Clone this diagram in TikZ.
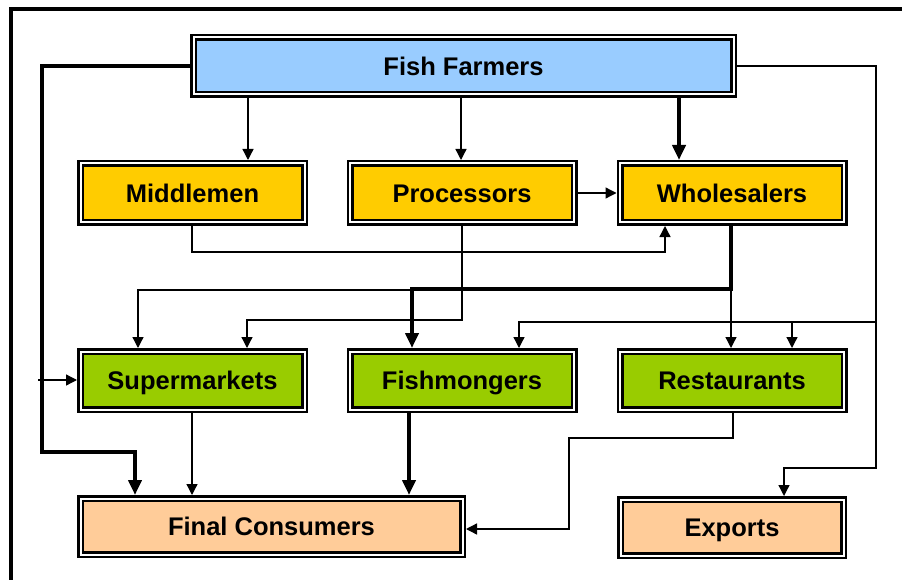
\documentclass[tikz,border=0pt]{standalone}
\usepackage{fontspec}
\setmainfont{Liberation Sans}
\usetikzlibrary{arrows.meta}
\definecolor{ffblue}{HTML}{99CCFF}
\definecolor{midyel}{HTML}{FFCC00}
\definecolor{retgrn}{HTML}{99CC00}
\definecolor{endpch}{HTML}{FFCC99}
\begin{document}
\begin{tikzpicture}[x=1pt,y=-1pt,
  box/.style={draw=black, line width=2.5pt, double=white, double distance=2pt,
    inner sep=0pt, outer sep=3.5pt, font=\bfseries\fontsize{25.5}{30}\selectfont,
    text height=18.3pt, text depth=0pt, minimum width=224pt, minimum height=59pt},
  thn/.style={line width=1.3pt, -{Triangle[length=11pt,width=11pt]}},
  thk/.style={line width=4pt, -{Triangle[length=15pt,width=13pt]}},
  frame/.style={line width=3.5pt}]
\useasboundingbox (0,0) rectangle (902,580);
\draw[frame] (11,582) -- (11,9) -- (904,9);

\node[box, fill=ffblue, minimum width=540pt, minimum height=57pt] (ff) at (463.5,66) {Fish Farmers};
\node[box, fill=midyel] (mid) at (192.5,193) {Middlemen};
\node[box, fill=midyel] (pro) at (462,193) {Processors};
\node[box, fill=midyel] (who) at (732,193) {Wholesalers};
\node[box, fill=retgrn, minimum height=58pt] (sup) at (192.5,380.5) {Supermarkets};
\node[box, fill=retgrn, minimum height=58pt] (fis) at (462,380.5) {Fishmongers};
\node[box, fill=retgrn, minimum height=58pt] (res) at (732,380.5) {Restaurants};
\node[box, fill=endpch, minimum width=382pt, minimum height=56pt] (fin) at (271.5,526.5) {Final Consumers};
\node[box, fill=endpch, minimum width=223pt, minimum height=56pt] (exp) at (732,527.5) {Exports};

% helper columns
\coordinate (c248) at (248,0);
\coordinate (c461) at (461,0);
\coordinate (c679) at (679,0);
\coordinate (c135) at (135,0);
\coordinate (c784) at (784,0);
\coordinate (c519) at (519,0);
\coordinate (c792) at (792,0);
\coordinate (c192) at (192,0);
\coordinate (c665) at (665,0);
\coordinate (c462) at (462,0);
\coordinate (c247) at (247,0);
\coordinate (c731) at (731,0);
\coordinate (c412) at (412,0);
\coordinate (c138) at (138,0);
\coordinate (c409) at (409,0);
\coordinate (c733) at (733,0);
% junctions
\coordinate (lb) at (38,380);
\coordinate (rb) at (876,322);
\coordinate (j1) at (412,290);
\coordinate (j2) at (731,289);
\coordinate (j3) at (569,529);

% from fish farmers
\draw[thn] (ff.south -| c248) -- (mid.north -| c248);
\draw[thn] (ff.south -| c461) -- (pro.north -| c461);
\draw[thk] (ff.south -| c679) -- (who.north -| c679);
\draw[thk] (ff.west) -| (42,452) -| (fin.north -| c135);
\draw[thn] (lb) -- (lb -| sup.west);
\draw[thn] (ff.east) -| (876,468) -| (exp.north -| c784);
\draw[thn] (rb) -| (fis.north -| c519);
\draw[thn] (rb -| c792) -- (res.north -| c792);

% second row
\draw[thn] (mid.south -| c192) -- (192,252) -| (who.south -| c665);
\draw[thn] (pro.east) -- (who.west);
\draw[thn] (pro.south -| c462) -- (462,320) -| (sup.north -| c247);
\draw[thk] (who.south -| c731) -- (j2) -| (fis.north -| c412);
\draw[thn] (j1) -| (sup.north -| c138);
\draw[thn] (j2) -- (res.north -| c731);

% third row
\draw[thn] (sup.south -| c192) -- (fin.north -| c192);
\draw[thk] (fis.south -| c409) -- (fin.north -| c409);
\draw[thn] (res.south -| c733) -- (733,438) -| (j3) -- (j3 -| fin.east);
\end{tikzpicture}
\end{document}
